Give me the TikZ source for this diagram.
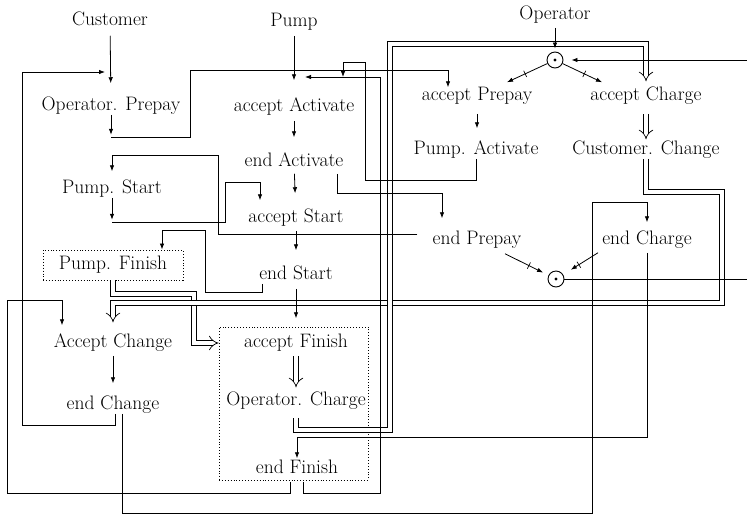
\documentclass[tikz,border=0pt]{standalone}
\usetikzlibrary{arrows.meta, decorations.markings}
\begin{document}
\begin{tikzpicture}[x=1pt, y=-1pt,
 lbl/.style={font=\fontsize{19.5}{22}\selectfont, inner sep=0pt, text height=13.3pt, text depth=3.8pt},
 ln/.style={line width=0.8pt},
 arr/.style={line width=0.8pt, -{Latex[length=6pt,width=4.5pt]}},
 dbl/.style={line width=0.7pt, double, double distance=4.5pt, -{Implies}},
 tck/.style={decoration={markings, mark=at position 0.55 with {\draw[line width=0.7pt, -, shorten <=0pt, shorten >=0pt] (0,-3.5pt) -- (0,3.5pt);}}, postaction=decorate},
 state/.style={circle, draw, line width=0.9pt, minimum size=16pt, inner sep=0pt},
 dotbox/.style={draw, dotted, line width=0.9pt},
]
\useasboundingbox (0,0) rectangle (747,515);

% nodes
\node[lbl] (cust) at (110,21) {Customer};
\node[lbl] (pump) at (294,22) {Pump};
\node[lbl] (oper) at (555,15) {Operator};
\node[lbl] (opp) at (111,106) {Operator. Prepay};
\node[lbl] (aact) at (294,107) {accept Activate};
\node[lbl] (eact) at (294,162) {end Activate};
\node[lbl] (pst) at (112,189) {Pump. Start};
\node[lbl] (ast) at (296,218) {accept Start};
\node[lbl] (est) at (296,275) {end Start};
\node[lbl, dotbox, minimum width=140pt, minimum height=30pt] (pfin) at (113,265) {Pump. Finish};
\node[lbl] (achg) at (113,343) {Accept Change};
\node[lbl] (echg) at (113,405) {end Change};
\node[dotbox, minimum width=149pt, minimum height=153pt, inner sep=0pt] (pbox) at (293.5,403.5) {};
\node[lbl] (afin) at (296,343) {accept Finish};
\node[lbl] (ochg) at (296,401) {Operator. Charge};
\node[lbl] (efin) at (297,469) {end Finish};
\node[lbl] (apre) at (477,96) {accept Prepay};
\node[lbl] (pact) at (476,150) {Pump. Activate};
\node[lbl] (acha) at (646,96) {accept Charge};
\node[lbl] (cchg) at (646,150) {Customer. Change};
\node[lbl] (epre) at (477,240) {end Prepay};
\node[lbl] (echa) at (647,240) {end Charge};
\node[state] (s1) at (555,60) {};
\node[state] (s2) at (556,279) {};
\fill (s1.center) circle (1.6pt);
\fill (s2.center) circle (1.6pt);

\coordinate (custin) at (105,72);
\coordinate (aactin) at (305,77);
\coordinate (actjoin) at (343,77);
\coordinate (redge1) at (747,60);
\coordinate (redge2) at (747,279);

% double-line rendezvous (drawn first, single lines cross over them)
\draw[dbl] (pfin.south) |- (194,294) |- (pbox.west |- afin);
\draw[dbl, shorten >=12pt] (cchg.south) |- (722,192) |- (113,303) -- (achg.north);
\draw[dbl, shorten <=8pt, shorten >=6pt] (ochg.south) |- (390,430) |- (646,44) -- (acha.north);
\draw[dbl, shorten <=4pt, shorten >=5pt] (afin) -- (ochg);
\draw[dbl, shorten <=9pt, shorten >=2pt] (acha) -- (cchg);

% sequential arrows within lanes
\draw[arr, shorten <=6pt, shorten >=14pt] (cust) -- (opp);
\draw[arr, shorten <=5pt, shorten >=18pt] (pump) -- (aact);
\draw[arr, shorten <=4pt, shorten >=3pt] (oper) -- (s1);
\draw[arr, shorten <=5pt, shorten >=16pt] (aact) -- (eact);
\draw[arr, shorten <=3pt, shorten >=16pt] (eact) -- (ast);
\draw[arr, shorten <=4pt, shorten >=16pt] (ast) -- (est);
\draw[arr, shorten <=5pt, shorten >=16pt] (est) -- (afin);
\draw[arr, shorten <=4pt, shorten >=13pt] (achg) -- (echg);
\draw[arr, shorten <=9pt, shorten >=13pt] (apre) -- (apre.south |- pact.north);
\draw[arr, tck] (s1) -- ([xshift=30pt,yshift=5pt]apre.north);
\draw[arr, tck] (s1) -- ([xshift=-44pt,yshift=5pt]acha.north);
\draw[arr, tck, shorten >=6pt] ([xshift=28pt,yshift=-5pt]epre.south) -- (s2);
\draw[arr, tck, shorten >=9pt] ([xshift=-49pt,yshift=-4pt]echa.south) -- (s2);
\draw[ln] (s2) -- (redge2);
\draw[arr, shorten >=8pt] (redge1) -- (s1);

% Customer loop
\draw[arr] ([xshift=2pt]echg.south) |- (22,425) |- (custin);

% Operator.Prepay -> accept Prepay
\draw[arr] (opp.south) -- ++(0,20);
\draw[arr] (opp.south) ++(0,23) -| (190,70) -| ([xshift=-29pt]apre.north);

% end Prepay -> Pump.Start
\draw[arr, shorten >=9pt] ([xshift=-15pt,yshift=6pt]epre.west) -| (218,155) -| (pst.north);

% Pump.Start -> accept Start
\draw[arr] (pst.south) -- ++(0,22);
\draw[arr, shorten >=9pt] (112,222) -| (225,182) -| ([xshift=-36pt]ast.north);

% end Start -> Pump.Finish
\draw[arr] ([xshift=-34pt]est.south) |- (205,292) |- (162,230) -- ([xshift=49pt]pfin.north);

% Pump.Activate -> accept Activate
\draw[arr] (pact.south) |- (365,180) |- (343,62) -- (actjoin);

% end Activate -> end Prepay
\draw[arr, shorten <=3pt, shorten >=13pt] ([xshift=43pt]eact.south) |- (442,193) -- ([xshift=-35pt]epre.north);

% Pump loop: end Finish -> accept Activate
\draw[arr, shorten <=4pt] ([xshift=6pt]efin.south) |- (380,493) |- (aactin);

% end Finish -> Accept Change
\draw[arr, shorten <=4pt, shorten >=9pt] ([xshift=-7pt]efin.south) |- (7,493) |- (62,300) -- ([xshift=-51pt]achg.north);

% end Charge -> end Finish
\draw[arr, shorten <=4pt, shorten >=2pt] (echa.south) |- (297,437) -- (efin.north);

% end Change -> end Charge
\draw[arr, shorten >=9pt] ([xshift=9pt]echg.south) |- (592,513) |- (647,202) -- (echa.north);
\end{tikzpicture}
\end{document}
